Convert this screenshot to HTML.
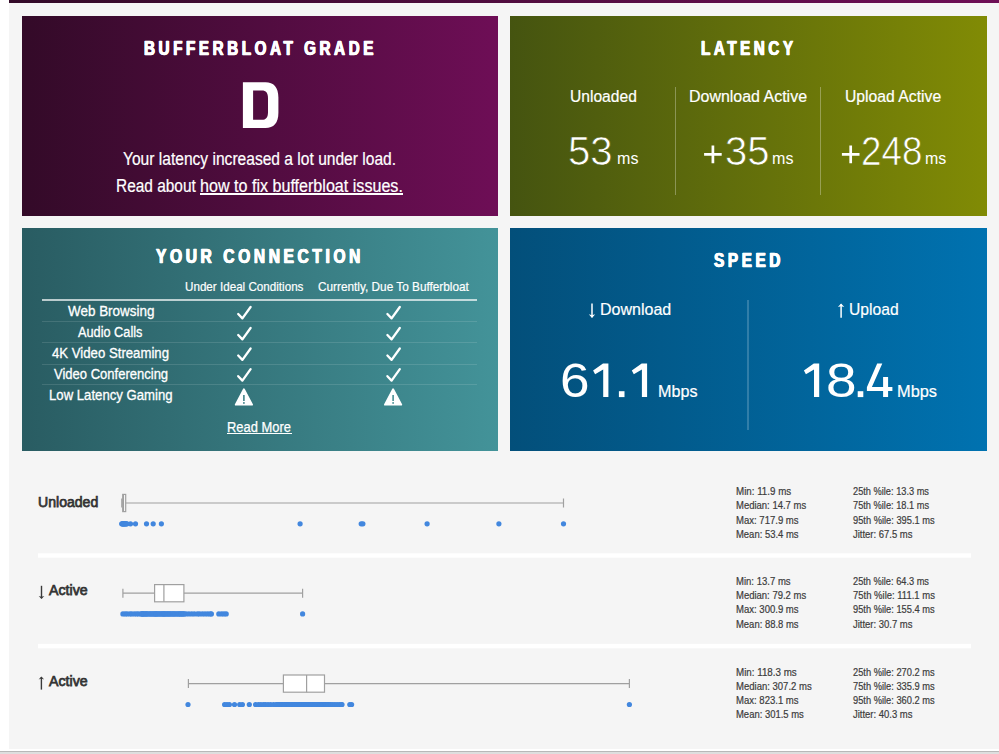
<!DOCTYPE html>
<html lang="en"><head><meta charset="utf-8"><title>Bufferbloat Test Results</title>
<style>
html,body{margin:0;padding:0;}
body{width:999px;height:754px;position:relative;overflow:hidden;background:#fff;font-family:"Liberation Sans",sans-serif;}
#bg{position:absolute;left:9px;top:0;width:990px;height:749px;background:#f5f5f5;}
#topbar{position:absolute;left:9px;top:0;width:990px;height:3px;background:linear-gradient(to right,#330a28,#6e0e56);}
#botbar{position:absolute;left:0;top:751px;width:999px;height:3px;background:#dedede;border-top:1px solid #b8b8b8;box-sizing:border-box;}
.panel{position:absolute;}
#p-grade{left:22px;top:16px;width:476px;height:199.5px;background:linear-gradient(to right,#330a28,#6e0e56);}
#p-lat{left:510px;top:16px;width:477px;height:199.5px;background:linear-gradient(to right,#455410,#818b05);}
#p-con{left:22px;top:228px;width:476px;height:223px;background:linear-gradient(to right,#295c62,#439399);}
#p-spd{left:510px;top:228px;width:477px;height:223px;background:linear-gradient(to right,#034f7a,#0072b0);}
.t{position:absolute;white-space:pre;line-height:1;transform-origin:0 0;margin:0;padding:0;}
.vsep{position:absolute;width:1px;background:rgba(255,255,255,0.38);}
.hl{position:absolute;height:1px;}
.ul{position:absolute;background:#fff;}
.wsep{position:absolute;left:38px;width:933px;height:4px;background:#fff;}
svg{position:absolute;left:0;top:0;overflow:visible;}
</style></head><body>
<div id="bg"></div><div id="topbar"></div>
<div class="panel" id="p-grade"></div><div class="panel" id="p-lat"></div>
<div class="panel" id="p-con"></div><div class="panel" id="p-spd"></div>

<div class="vsep" style="left:675px;top:87.4px;height:107.4px;background:rgba(255,255,255,0.30)"></div>
<div class="vsep" style="left:820px;top:87.4px;height:107.4px;background:rgba(255,255,255,0.30)"></div>
<div class="vsep" style="left:747px;top:299.5px;width:2px;height:130.4px;background:rgba(255,255,255,0.19)"></div>
<div class="hl" style="left:42px;top:299px;width:435px;height:2px;background:rgba(255,255,255,0.68)"></div>
<div class="hl" style="left:42px;top:321px;width:435px;background:rgba(255,255,255,0.12)"></div>
<div class="hl" style="left:42px;top:342px;width:435px;background:rgba(255,255,255,0.12)"></div>
<div class="hl" style="left:42px;top:364px;width:435px;background:rgba(255,255,255,0.12)"></div>
<div class="hl" style="left:42px;top:384px;width:435px;background:rgba(255,255,255,0.12)"></div>
<span class="t" style="left:143.84px;top:38.05px;font-size:20.29px;font-weight:700;color:#fff;transform:scaleX(0.7529);letter-spacing:4.7px;-webkit-text-stroke:0.4px #fff;text-shadow:0.6px 0 0 #fff,-0.6px 0 0 #fff;">BUFFERBLOAT GRADE</span>
<span class="t" style="left:123.0px;top:150.86px;font-size:17.68px;font-weight:400;color:#fff;transform:scaleX(0.8815);-webkit-text-stroke:0.2px #fff;">Your latency increased a lot under load.</span>
<span class="t" style="left:116.06px;top:177.76px;font-size:17.68px;font-weight:400;color:#fff;transform:scaleX(0.8736);-webkit-text-stroke:0.2px #fff;">Read about</span>
<span class="t" style="left:200.14px;top:177.76px;font-size:17.68px;font-weight:400;color:#fff;transform:scaleX(0.9111);-webkit-text-stroke:0.2px #fff;">how to fix bufferbloat issues.</span>
<div class="ul" style="left:199.9px;top:193.0px;width:203.1px;height:1.5px"></div>
<span class="t" style="left:701.14px;top:38.05px;font-size:20.29px;font-weight:700;color:#fff;transform:scaleX(0.7519);letter-spacing:4.7px;-webkit-text-stroke:0.4px #fff;text-shadow:0.6px 0 0 #fff,-0.6px 0 0 #fff;">LATENCY</span>
<span class="t" style="left:570.02px;top:88.05px;font-size:17.1px;font-weight:400;color:#fff;transform:scaleX(0.9132);-webkit-text-stroke:0.2px #fff;">Unloaded</span>
<span class="t" style="left:689.0px;top:88.05px;font-size:17.1px;font-weight:400;color:#fff;transform:scaleX(0.9339);-webkit-text-stroke:0.2px #fff;">Download Active</span>
<span class="t" style="left:845.02px;top:88.05px;font-size:17.1px;font-weight:400;color:#fff;transform:scaleX(0.9201);-webkit-text-stroke:0.2px #fff;">Upload Active</span>
<span class="t" style="left:568.04px;top:130.92px;font-size:40.57px;font-weight:400;color:#fff;transform:scaleX(0.988);-webkit-text-stroke:0.7px #4f5d0e;">53</span>
<span class="t" style="left:616.83px;top:150.87px;font-size:16.6px;font-weight:400;color:#fff;transform:scaleX(0.9679);">ms</span>
<span class="t" style="left:724.92px;top:130.92px;font-size:40.57px;font-weight:400;color:#fff;transform:scaleX(0.9874);-webkit-text-stroke:0.7px #616e0b;">35</span>
<span class="t" style="left:772.03px;top:150.87px;font-size:16.6px;font-weight:400;color:#fff;transform:scaleX(0.9679);">ms</span>
<span class="t" style="left:861.06px;top:130.92px;font-size:40.57px;font-weight:400;color:#fff;transform:scaleX(0.9067);-webkit-text-stroke:0.7px #747f07;">248</span>
<span class="t" style="left:925.04px;top:150.87px;font-size:16.6px;font-weight:400;color:#fff;transform:scaleX(0.962);">ms</span>
<span class="t" style="left:156.0px;top:245.94px;font-size:20.43px;font-weight:700;color:#fff;transform:scaleX(0.7632);letter-spacing:4.7px;-webkit-text-stroke:0.4px #fff;text-shadow:0.6px 0 0 #fff,-0.6px 0 0 #fff;">YOUR CONNECTION</span>
<span class="t" style="left:184.94px;top:279.98px;font-size:13.04px;font-weight:400;color:#fff;transform:scaleX(0.8934);-webkit-text-stroke:0.2px #fff;">Under Ideal Conditions</span>
<span class="t" style="left:317.74px;top:279.98px;font-size:13.04px;font-weight:400;color:#fff;transform:scaleX(0.9057);-webkit-text-stroke:0.2px #fff;">Currently, Due To Bufferbloat</span>
<span class="t" style="left:67.88px;top:304.07px;font-size:14.35px;font-weight:400;color:#fff;transform:scaleX(0.9373);-webkit-text-stroke:0.3px #fff;">Web Browsing</span>
<span class="t" style="left:78.08px;top:325.07px;font-size:14.35px;font-weight:400;color:#fff;transform:scaleX(0.8878);-webkit-text-stroke:0.3px #fff;">Audio Calls</span>
<span class="t" style="left:52.08px;top:346.07px;font-size:14.35px;font-weight:400;color:#fff;transform:scaleX(0.919);-webkit-text-stroke:0.3px #fff;">4K Video Streaming</span>
<span class="t" style="left:53.96px;top:367.07px;font-size:14.35px;font-weight:400;color:#fff;transform:scaleX(0.9076);-webkit-text-stroke:0.3px #fff;">Video Conferencing</span>
<span class="t" style="left:49.06px;top:388.07px;font-size:14.35px;font-weight:400;color:#fff;transform:scaleX(0.9174);-webkit-text-stroke:0.3px #fff;">Low Latency Gaming</span>
<span class="t" style="left:227.06px;top:420.07px;font-size:14.35px;font-weight:400;color:#fff;transform:scaleX(0.9007);-webkit-text-stroke:0.25px #fff;">Read More</span>
<div class="ul" style="left:227.3px;top:433.3px;width:64.5px;height:1.0px"></div>
<span class="t" style="left:714.0px;top:250.05px;font-size:20.29px;font-weight:700;color:#fff;transform:scaleX(0.7588);letter-spacing:4.7px;-webkit-text-stroke:0.4px #fff;text-shadow:0.6px 0 0 #fff,-0.6px 0 0 #fff;">SPEED</span>
<span class="t" style="left:599.8px;top:300.91px;font-size:17.39px;font-weight:400;color:#fff;transform:scaleX(0.9216);-webkit-text-stroke:0.2px #fff;">Download</span>
<span class="t" style="left:849.12px;top:300.91px;font-size:17.39px;font-weight:400;color:#fff;transform:scaleX(0.9007);-webkit-text-stroke:0.2px #fff;">Upload</span>
<span class="t" style="left:560.02px;top:355.95px;font-size:48.7px;font-weight:400;color:#fff;transform:scaleX(1.0908);">6</span>
<span class="t" style="left:658.3px;top:383.06px;font-size:16.38px;font-weight:400;color:#fff;transform:scaleX(0.9869);-webkit-text-stroke:0.2px #fff;">Mbps</span>
<span class="t" style="left:826.01px;top:355.95px;font-size:48.7px;font-weight:400;color:#fff;transform:scaleX(1.1286);">8</span>
<span class="t" style="left:897.09px;top:383.06px;font-size:16.38px;font-weight:400;color:#fff;transform:scaleX(1.0011);-webkit-text-stroke:0.2px #fff;">Mbps</span>
<span class="t" style="left:38.06px;top:494.07px;font-size:15.07px;font-weight:400;color:#333;transform:scaleX(0.9347);-webkit-text-stroke:0.75px #333;">Unloaded</span>
<span class="t" style="left:49.12px;top:581.97px;font-size:15.07px;font-weight:400;color:#333;transform:scaleX(0.9417);-webkit-text-stroke:0.75px #333;">Active</span>
<span class="t" style="left:49.12px;top:673.07px;font-size:15.07px;font-weight:400;color:#333;transform:scaleX(0.9409);-webkit-text-stroke:0.75px #333;">Active</span>
<span class="t" style="left:736.06px;top:486.9px;font-size:10.29px;font-weight:400;color:#3c3c3c;transform:scaleX(0.9498);-webkit-text-stroke:0.2px #3c3c3c;">Min: 11.9 ms</span>
<span class="t" style="left:736.08px;top:501.05px;font-size:10.29px;font-weight:400;color:#3c3c3c;transform:scaleX(0.9226);-webkit-text-stroke:0.2px #3c3c3c;">Median: 14.7 ms</span>
<span class="t" style="left:736.08px;top:515.8px;font-size:10.29px;font-weight:400;color:#3c3c3c;transform:scaleX(0.9284);-webkit-text-stroke:0.2px #3c3c3c;">Max: 717.9 ms</span>
<span class="t" style="left:736.08px;top:529.85px;font-size:10.29px;font-weight:400;color:#3c3c3c;transform:scaleX(0.9189);-webkit-text-stroke:0.2px #3c3c3c;">Mean: 53.4 ms</span>
<span class="t" style="left:853.08px;top:486.9px;font-size:10.29px;font-weight:400;color:#3c3c3c;transform:scaleX(0.8984);-webkit-text-stroke:0.2px #3c3c3c;">25th %ile: 13.3 ms</span>
<span class="t" style="left:853.08px;top:501.05px;font-size:10.29px;font-weight:400;color:#3c3c3c;transform:scaleX(0.8996);-webkit-text-stroke:0.2px #3c3c3c;">75th %ile: 18.1 ms</span>
<span class="t" style="left:853.04px;top:515.8px;font-size:10.29px;font-weight:400;color:#3c3c3c;transform:scaleX(0.9038);-webkit-text-stroke:0.2px #3c3c3c;">95th %ile: 395.1 ms</span>
<span class="t" style="left:852.82px;top:529.85px;font-size:10.29px;font-weight:400;color:#3c3c3c;transform:scaleX(0.9207);-webkit-text-stroke:0.2px #3c3c3c;">Jitter: 67.5 ms</span>
<span class="t" style="left:736.08px;top:577.0px;font-size:10.29px;font-weight:400;color:#3c3c3c;transform:scaleX(0.928);-webkit-text-stroke:0.2px #3c3c3c;">Min: 13.7 ms</span>
<span class="t" style="left:736.08px;top:590.95px;font-size:10.29px;font-weight:400;color:#3c3c3c;transform:scaleX(0.9226);-webkit-text-stroke:0.2px #3c3c3c;">Median: 79.2 ms</span>
<span class="t" style="left:736.08px;top:604.9px;font-size:10.29px;font-weight:400;color:#3c3c3c;transform:scaleX(0.9284);-webkit-text-stroke:0.2px #3c3c3c;">Max: 300.9 ms</span>
<span class="t" style="left:736.08px;top:619.85px;font-size:10.29px;font-weight:400;color:#3c3c3c;transform:scaleX(0.9189);-webkit-text-stroke:0.2px #3c3c3c;">Mean: 88.8 ms</span>
<span class="t" style="left:853.08px;top:577.0px;font-size:10.29px;font-weight:400;color:#3c3c3c;transform:scaleX(0.8984);-webkit-text-stroke:0.2px #3c3c3c;">25th %ile: 64.3 ms</span>
<span class="t" style="left:853.06px;top:590.95px;font-size:10.29px;font-weight:400;color:#3c3c3c;transform:scaleX(0.9226);-webkit-text-stroke:0.2px #3c3c3c;">75th %ile: 111.1 ms</span>
<span class="t" style="left:853.04px;top:604.9px;font-size:10.29px;font-weight:400;color:#3c3c3c;transform:scaleX(0.9038);-webkit-text-stroke:0.2px #3c3c3c;">95th %ile: 155.4 ms</span>
<span class="t" style="left:852.82px;top:619.85px;font-size:10.29px;font-weight:400;color:#3c3c3c;transform:scaleX(0.9207);-webkit-text-stroke:0.2px #3c3c3c;">Jitter: 30.7 ms</span>
<span class="t" style="left:736.06px;top:667.9px;font-size:10.29px;font-weight:400;color:#3c3c3c;transform:scaleX(0.9513);-webkit-text-stroke:0.2px #3c3c3c;">Min: 118.3 ms</span>
<span class="t" style="left:736.08px;top:681.95px;font-size:10.29px;font-weight:400;color:#3c3c3c;transform:scaleX(0.9262);-webkit-text-stroke:0.2px #3c3c3c;">Median: 307.2 ms</span>
<span class="t" style="left:736.08px;top:695.9px;font-size:10.29px;font-weight:400;color:#3c3c3c;transform:scaleX(0.9284);-webkit-text-stroke:0.2px #3c3c3c;">Max: 823.1 ms</span>
<span class="t" style="left:736.08px;top:710.05px;font-size:10.29px;font-weight:400;color:#3c3c3c;transform:scaleX(0.9194);-webkit-text-stroke:0.2px #3c3c3c;">Mean: 301.5 ms</span>
<span class="t" style="left:853.08px;top:667.9px;font-size:10.29px;font-weight:400;color:#3c3c3c;transform:scaleX(0.9036);-webkit-text-stroke:0.2px #3c3c3c;">25th %ile: 270.2 ms</span>
<span class="t" style="left:853.08px;top:681.95px;font-size:10.29px;font-weight:400;color:#3c3c3c;transform:scaleX(0.9046);-webkit-text-stroke:0.2px #3c3c3c;">75th %ile: 335.9 ms</span>
<span class="t" style="left:853.04px;top:695.9px;font-size:10.29px;font-weight:400;color:#3c3c3c;transform:scaleX(0.9038);-webkit-text-stroke:0.2px #3c3c3c;">95th %ile: 360.2 ms</span>
<span class="t" style="left:852.82px;top:710.05px;font-size:10.29px;font-weight:400;color:#3c3c3c;transform:scaleX(0.9207);-webkit-text-stroke:0.2px #3c3c3c;">Jitter: 40.3 ms</span>
<svg width="999" height="754" viewBox="0 0 999 754">
<path d="M238.2 314.0 L242.4 318.4 L250.6 307.0" fill="none" stroke="#fff" stroke-width="2.3" stroke-linecap="round" stroke-linejoin="round"/>
<path d="M387.4 314.0 L391.6 318.4 L399.8 307.0" fill="none" stroke="#fff" stroke-width="2.3" stroke-linecap="round" stroke-linejoin="round"/>
<path d="M238.2 335.0 L242.4 339.4 L250.6 328.0" fill="none" stroke="#fff" stroke-width="2.3" stroke-linecap="round" stroke-linejoin="round"/>
<path d="M387.4 335.0 L391.6 339.4 L399.8 328.0" fill="none" stroke="#fff" stroke-width="2.3" stroke-linecap="round" stroke-linejoin="round"/>
<path d="M238.2 355.5 L242.4 359.9 L250.6 348.5" fill="none" stroke="#fff" stroke-width="2.3" stroke-linecap="round" stroke-linejoin="round"/>
<path d="M387.4 355.5 L391.6 359.9 L399.8 348.5" fill="none" stroke="#fff" stroke-width="2.3" stroke-linecap="round" stroke-linejoin="round"/>
<path d="M238.2 376.2 L242.4 380.6 L250.6 369.2" fill="none" stroke="#fff" stroke-width="2.3" stroke-linecap="round" stroke-linejoin="round"/>
<path d="M387.4 376.2 L391.6 380.6 L399.8 369.2" fill="none" stroke="#fff" stroke-width="2.3" stroke-linecap="round" stroke-linejoin="round"/>
<path d="M243.9 389.2 L252.1 404.7 L235.7 404.7 Z" fill="#fff" stroke="#fff" stroke-width="1.8" stroke-linejoin="round"/><rect x="243.15" y="395.0" width="1.5" height="6.0" fill="#337a80"/><rect x="243.15" y="402.1" width="1.5" height="1.7" fill="#337a80"/>
<path d="M393.1 389.2 L401.3 404.7 L384.9 404.7 Z" fill="#fff" stroke="#fff" stroke-width="1.8" stroke-linejoin="round"/><rect x="392.35" y="395.0" width="1.5" height="6.0" fill="#3b878d"/><rect x="392.35" y="402.1" width="1.5" height="1.7" fill="#3b878d"/>
<rect x="38" y="553.3" width="933" height="4.4" fill="#fff"/><rect x="38" y="643.9" width="933" height="4.4" fill="#fff"/>
<path fill="#fff" fill-rule="evenodd" d="M242.9 82.3 H265.5 C273.6 82.3 278.4 87.2 278.4 97.6 V112.8 C278.4 123.2 273.6 128 265.5 128 H242.9 Z M253.1 90.6 V119.8 H261.9 C266 119.8 268 117.4 268 112.2 V98.2 C268 93 266 90.6 261.9 90.6 Z"/>
<path fill="#fff" d="M608.4 363.6 L608.4 397.1 L603.1999999999999 397.1 L603.1999999999999 369.6 L595.1 374.3 L593.1 370.5 L603.0 363.6 Z"/>
<path fill="#fff" d="M647.1 363.6 L647.1 397.1 L641.9 397.1 L641.9 369.6 L633.8 374.3 L631.8 370.5 L641.7 363.6 Z"/>
<path fill="#fff" d="M819.2 363.6 L819.2 397.1 L814.0 397.1 L814.0 369.6 L805.9 374.3 L803.9 370.5 L813.8 363.6 Z"/>
<rect x="618.9" y="391.2" width="5.6" height="5.9" fill="#fff"/><rect x="857.7" y="391.2" width="5.6" height="5.9" fill="#fff"/>
<path fill="#fff" d="M877.2 363.6 L882.3 363.6 L871.9 386.9 L883.1 386.9 L883.1 376.9 L888.1 376.9 L888.1 386.9 L892.4 386.9 L892.4 391.1 L888.1 391.1 L888.1 397.1 L883.1 397.1 L883.1 391.1 L866.9 391.1 L866.9 387.3 Z"/>
<path d="M704.1 154.4 H721.6999999999999 M712.9 145.6 V163.20000000000002" stroke="#fff" stroke-width="2.7" fill="none"/>
<path d="M841.9000000000001 154.4 H859.5 M850.7 145.6 V163.20000000000002" stroke="#fff" stroke-width="2.7" fill="none"/>
<path d="M592 303.6 L592 317.2" stroke="#fff" stroke-width="1.5" fill="none"/><path d="M588.8 314.3 L592 318.0 L595.2 314.3 L592 315.2 Z" fill="#fff"/>
<path d="M841.1 317.8 L841.1 304.2" stroke="#fff" stroke-width="1.5" fill="none"/><path d="M837.9 307.09999999999997 L841.1 303.4 L844.3000000000001 307.09999999999997 L841.1 306.2 Z" fill="#fff"/>
<path d="M41.5 585.8 L41.5 598.2" stroke="#3a3a3a" stroke-width="1.4" fill="none"/><path d="M38.7 595.9 L41.5 599.0 L44.3 595.9 L41.5 596.8 Z" fill="#3a3a3a"/>
<path d="M41.4 689.6 L41.4 677.1999999999999" stroke="#3a3a3a" stroke-width="1.4" fill="none"/><path d="M38.6 679.5 L41.4 676.4 L44.199999999999996 679.5 L41.4 678.6 Z" fill="#3a3a3a"/>
<path d="M121.8 503 L563.5 503 M121.8 498.5 L121.8 507.5 M563.5 498.5 L563.5 507.5" stroke="#a0a0a0" stroke-width="1.2" fill="none"/><rect x="122.7" y="494.4" width="3.0" height="17.2" fill="#fff" stroke="#a0a0a0" stroke-width="1.2"/><path d="M123.5 494.4 L123.5 511.6" stroke="#a0a0a0" stroke-width="1.2"/>
<path d="M122.9 593.2 L302.6 593.2 M122.9 588.7 L122.9 597.7 M302.6 588.7 L302.6 597.7" stroke="#a0a0a0" stroke-width="1.2" fill="none"/><rect x="154.6" y="584.6" width="29.3" height="17.2" fill="#fff" stroke="#a0a0a0" stroke-width="1.2"/><path d="M163.9 584.6 L163.9 601.8000000000001" stroke="#a0a0a0" stroke-width="1.2"/>
<path d="M188.4 683.6 L629.4 683.6 M188.4 679.1 L188.4 688.1 M629.4 679.1 L629.4 688.1" stroke="#a0a0a0" stroke-width="1.2" fill="none"/><rect x="283.4" y="675.0" width="41.1" height="17.2" fill="#fff" stroke="#a0a0a0" stroke-width="1.2"/><path d="M306.6 675.0 L306.6 692.2" stroke="#a0a0a0" stroke-width="1.2"/>
<circle cx="121.7" cy="523.8" r="2.6" fill="#4287de"/><circle cx="122.3" cy="523.8" r="2.6" fill="#4287de"/><circle cx="122.8" cy="523.8" r="2.6" fill="#4287de"/><circle cx="123.2" cy="523.8" r="2.6" fill="#4287de"/><circle cx="123.6" cy="523.8" r="2.6" fill="#4287de"/><circle cx="124.0" cy="523.8" r="2.6" fill="#4287de"/><circle cx="124.5" cy="523.8" r="2.6" fill="#4287de"/><circle cx="125.0" cy="523.8" r="2.6" fill="#4287de"/><circle cx="125.6" cy="523.8" r="2.6" fill="#4287de"/><circle cx="126.3" cy="523.8" r="2.6" fill="#4287de"/><circle cx="127.0" cy="523.8" r="2.6" fill="#4287de"/><circle cx="130.5" cy="523.8" r="2.6" fill="#4287de"/><circle cx="135.5" cy="523.8" r="2.6" fill="#4287de"/><circle cx="146.5" cy="523.8" r="2.6" fill="#4287de"/><circle cx="153.2" cy="523.8" r="2.6" fill="#4287de"/><circle cx="161.4" cy="523.8" r="2.6" fill="#4287de"/><circle cx="300.1" cy="523.8" r="2.6" fill="#4287de"/><circle cx="361.2" cy="523.8" r="2.6" fill="#4287de"/><circle cx="362.9" cy="523.8" r="2.6" fill="#4287de"/><circle cx="427.1" cy="523.8" r="2.6" fill="#4287de"/><circle cx="498.9" cy="523.8" r="2.6" fill="#4287de"/><circle cx="563.5" cy="523.8" r="2.6" fill="#4287de"/>
<circle cx="122.9" cy="613.9" r="2.6" fill="#4287de"/><circle cx="125.2" cy="613.9" r="2.6" fill="#4287de"/><circle cx="127.2" cy="613.9" r="2.6" fill="#4287de"/><circle cx="129.9" cy="613.9" r="2.6" fill="#4287de"/><circle cx="131.8" cy="613.9" r="2.6" fill="#4287de"/><circle cx="134.3" cy="613.9" r="2.6" fill="#4287de"/><circle cx="136.6" cy="613.9" r="2.6" fill="#4287de"/><circle cx="138.5" cy="613.9" r="2.6" fill="#4287de"/><circle cx="141.0" cy="613.9" r="2.6" fill="#4287de"/><circle cx="141.6" cy="613.9" r="2.6" fill="#4287de"/><circle cx="142.5" cy="613.9" r="2.6" fill="#4287de"/><circle cx="143.0" cy="613.9" r="2.6" fill="#4287de"/><circle cx="143.6" cy="613.9" r="2.6" fill="#4287de"/><circle cx="144.5" cy="613.9" r="2.6" fill="#4287de"/><circle cx="145.7" cy="613.9" r="2.6" fill="#4287de"/><circle cx="146.3" cy="613.9" r="2.6" fill="#4287de"/><circle cx="147.0" cy="613.9" r="2.6" fill="#4287de"/><circle cx="148.1" cy="613.9" r="2.6" fill="#4287de"/><circle cx="149.5" cy="613.9" r="2.6" fill="#4287de"/><circle cx="150.5" cy="613.9" r="2.6" fill="#4287de"/><circle cx="151.3" cy="613.9" r="2.6" fill="#4287de"/><circle cx="152.7" cy="613.9" r="2.6" fill="#4287de"/><circle cx="153.3" cy="613.9" r="2.6" fill="#4287de"/><circle cx="154.5" cy="613.9" r="2.6" fill="#4287de"/><circle cx="155.3" cy="613.9" r="2.6" fill="#4287de"/><circle cx="155.9" cy="613.9" r="2.6" fill="#4287de"/><circle cx="156.5" cy="613.9" r="2.6" fill="#4287de"/><circle cx="157.3" cy="613.9" r="2.6" fill="#4287de"/><circle cx="158.5" cy="613.9" r="2.6" fill="#4287de"/><circle cx="159.2" cy="613.9" r="2.6" fill="#4287de"/><circle cx="160.2" cy="613.9" r="2.6" fill="#4287de"/><circle cx="161.3" cy="613.9" r="2.6" fill="#4287de"/><circle cx="162.1" cy="613.9" r="2.6" fill="#4287de"/><circle cx="163.1" cy="613.9" r="2.6" fill="#4287de"/><circle cx="163.7" cy="613.9" r="2.6" fill="#4287de"/><circle cx="164.2" cy="613.9" r="2.6" fill="#4287de"/><circle cx="164.9" cy="613.9" r="2.6" fill="#4287de"/><circle cx="166.0" cy="613.9" r="2.6" fill="#4287de"/><circle cx="166.9" cy="613.9" r="2.6" fill="#4287de"/><circle cx="167.7" cy="613.9" r="2.6" fill="#4287de"/><circle cx="168.7" cy="613.9" r="2.6" fill="#4287de"/><circle cx="169.6" cy="613.9" r="2.6" fill="#4287de"/><circle cx="170.4" cy="613.9" r="2.6" fill="#4287de"/><circle cx="171.6" cy="613.9" r="2.6" fill="#4287de"/><circle cx="172.7" cy="613.9" r="2.6" fill="#4287de"/><circle cx="173.5" cy="613.9" r="2.6" fill="#4287de"/><circle cx="174.5" cy="613.9" r="2.6" fill="#4287de"/><circle cx="175.5" cy="613.9" r="2.6" fill="#4287de"/><circle cx="176.7" cy="613.9" r="2.6" fill="#4287de"/><circle cx="177.9" cy="613.9" r="2.6" fill="#4287de"/><circle cx="178.7" cy="613.9" r="2.6" fill="#4287de"/><circle cx="180.0" cy="613.9" r="2.6" fill="#4287de"/><circle cx="180.6" cy="613.9" r="2.6" fill="#4287de"/><circle cx="181.5" cy="613.9" r="2.6" fill="#4287de"/><circle cx="182.7" cy="613.9" r="2.6" fill="#4287de"/><circle cx="183.3" cy="613.9" r="2.6" fill="#4287de"/><circle cx="184.3" cy="613.9" r="2.6" fill="#4287de"/><circle cx="186.1" cy="613.9" r="2.6" fill="#4287de"/><circle cx="188.9" cy="613.9" r="2.6" fill="#4287de"/><circle cx="191.7" cy="613.9" r="2.6" fill="#4287de"/><circle cx="194.3" cy="613.9" r="2.6" fill="#4287de"/><circle cx="197.4" cy="613.9" r="2.6" fill="#4287de"/><circle cx="199.6" cy="613.9" r="2.6" fill="#4287de"/><circle cx="202.4" cy="613.9" r="2.6" fill="#4287de"/><circle cx="205.0" cy="613.9" r="2.6" fill="#4287de"/><circle cx="207.6" cy="613.9" r="2.6" fill="#4287de"/><circle cx="210.1" cy="613.9" r="2.6" fill="#4287de"/><circle cx="211.4" cy="613.9" r="2.6" fill="#4287de"/><circle cx="218.8" cy="613.9" r="2.6" fill="#4287de"/><circle cx="221.6" cy="613.9" r="2.6" fill="#4287de"/><circle cx="224.0" cy="613.9" r="2.6" fill="#4287de"/><circle cx="226.2" cy="613.9" r="2.6" fill="#4287de"/><circle cx="302.6" cy="613.9" r="2.6" fill="#4287de"/>
<circle cx="188.0" cy="704.5" r="2.6" fill="#4287de"/><circle cx="224.6" cy="704.5" r="2.6" fill="#4287de"/><circle cx="227.0" cy="704.5" r="2.6" fill="#4287de"/><circle cx="229.4" cy="704.5" r="2.6" fill="#4287de"/><circle cx="234.5" cy="704.5" r="2.6" fill="#4287de"/><circle cx="239.7" cy="704.5" r="2.6" fill="#4287de"/><circle cx="242.4" cy="704.5" r="2.6" fill="#4287de"/><circle cx="249.3" cy="704.5" r="2.6" fill="#4287de"/><circle cx="255.6" cy="704.5" r="2.6" fill="#4287de"/><circle cx="258.5" cy="704.5" r="2.6" fill="#4287de"/><circle cx="260.9" cy="704.5" r="2.6" fill="#4287de"/><circle cx="263.5" cy="704.5" r="2.6" fill="#4287de"/><circle cx="265.4" cy="704.5" r="2.6" fill="#4287de"/><circle cx="268.0" cy="704.5" r="2.6" fill="#4287de"/><circle cx="270.6" cy="704.5" r="2.6" fill="#4287de"/><circle cx="273.6" cy="704.5" r="2.6" fill="#4287de"/><circle cx="276.4" cy="704.5" r="2.6" fill="#4287de"/><circle cx="277.1" cy="704.5" r="2.6" fill="#4287de"/><circle cx="278.0" cy="704.5" r="2.6" fill="#4287de"/><circle cx="279.1" cy="704.5" r="2.6" fill="#4287de"/><circle cx="279.6" cy="704.5" r="2.6" fill="#4287de"/><circle cx="280.5" cy="704.5" r="2.6" fill="#4287de"/><circle cx="281.2" cy="704.5" r="2.6" fill="#4287de"/><circle cx="281.8" cy="704.5" r="2.6" fill="#4287de"/><circle cx="282.3" cy="704.5" r="2.6" fill="#4287de"/><circle cx="283.5" cy="704.5" r="2.6" fill="#4287de"/><circle cx="284.1" cy="704.5" r="2.6" fill="#4287de"/><circle cx="284.9" cy="704.5" r="2.6" fill="#4287de"/><circle cx="285.7" cy="704.5" r="2.6" fill="#4287de"/><circle cx="287.0" cy="704.5" r="2.6" fill="#4287de"/><circle cx="287.6" cy="704.5" r="2.6" fill="#4287de"/><circle cx="288.5" cy="704.5" r="2.6" fill="#4287de"/><circle cx="289.5" cy="704.5" r="2.6" fill="#4287de"/><circle cx="290.8" cy="704.5" r="2.6" fill="#4287de"/><circle cx="292.0" cy="704.5" r="2.6" fill="#4287de"/><circle cx="293.3" cy="704.5" r="2.6" fill="#4287de"/><circle cx="294.0" cy="704.5" r="2.6" fill="#4287de"/><circle cx="294.9" cy="704.5" r="2.6" fill="#4287de"/><circle cx="295.7" cy="704.5" r="2.6" fill="#4287de"/><circle cx="297.0" cy="704.5" r="2.6" fill="#4287de"/><circle cx="298.4" cy="704.5" r="2.6" fill="#4287de"/><circle cx="299.0" cy="704.5" r="2.6" fill="#4287de"/><circle cx="299.7" cy="704.5" r="2.6" fill="#4287de"/><circle cx="300.4" cy="704.5" r="2.6" fill="#4287de"/><circle cx="301.1" cy="704.5" r="2.6" fill="#4287de"/><circle cx="302.0" cy="704.5" r="2.6" fill="#4287de"/><circle cx="303.1" cy="704.5" r="2.6" fill="#4287de"/><circle cx="303.8" cy="704.5" r="2.6" fill="#4287de"/><circle cx="304.3" cy="704.5" r="2.6" fill="#4287de"/><circle cx="305.2" cy="704.5" r="2.6" fill="#4287de"/><circle cx="306.0" cy="704.5" r="2.6" fill="#4287de"/><circle cx="307.0" cy="704.5" r="2.6" fill="#4287de"/><circle cx="308.4" cy="704.5" r="2.6" fill="#4287de"/><circle cx="309.5" cy="704.5" r="2.6" fill="#4287de"/><circle cx="310.5" cy="704.5" r="2.6" fill="#4287de"/><circle cx="311.5" cy="704.5" r="2.6" fill="#4287de"/><circle cx="312.6" cy="704.5" r="2.6" fill="#4287de"/><circle cx="313.2" cy="704.5" r="2.6" fill="#4287de"/><circle cx="314.5" cy="704.5" r="2.6" fill="#4287de"/><circle cx="315.7" cy="704.5" r="2.6" fill="#4287de"/><circle cx="317.0" cy="704.5" r="2.6" fill="#4287de"/><circle cx="318.2" cy="704.5" r="2.6" fill="#4287de"/><circle cx="319.0" cy="704.5" r="2.6" fill="#4287de"/><circle cx="319.9" cy="704.5" r="2.6" fill="#4287de"/><circle cx="320.5" cy="704.5" r="2.6" fill="#4287de"/><circle cx="321.6" cy="704.5" r="2.6" fill="#4287de"/><circle cx="322.1" cy="704.5" r="2.6" fill="#4287de"/><circle cx="322.7" cy="704.5" r="2.6" fill="#4287de"/><circle cx="323.4" cy="704.5" r="2.6" fill="#4287de"/><circle cx="324.0" cy="704.5" r="2.6" fill="#4287de"/><circle cx="324.8" cy="704.5" r="2.6" fill="#4287de"/><circle cx="325.4" cy="704.5" r="2.6" fill="#4287de"/><circle cx="325.9" cy="704.5" r="2.6" fill="#4287de"/><circle cx="326.5" cy="704.5" r="2.6" fill="#4287de"/><circle cx="327.1" cy="704.5" r="2.6" fill="#4287de"/><circle cx="327.9" cy="704.5" r="2.6" fill="#4287de"/><circle cx="328.4" cy="704.5" r="2.6" fill="#4287de"/><circle cx="329.7" cy="704.5" r="2.6" fill="#4287de"/><circle cx="330.8" cy="704.5" r="2.6" fill="#4287de"/><circle cx="332.8" cy="704.5" r="2.6" fill="#4287de"/><circle cx="334.9" cy="704.5" r="2.6" fill="#4287de"/><circle cx="337.1" cy="704.5" r="2.6" fill="#4287de"/><circle cx="339.3" cy="704.5" r="2.6" fill="#4287de"/><circle cx="341.3" cy="704.5" r="2.6" fill="#4287de"/><circle cx="342.0" cy="704.5" r="2.6" fill="#4287de"/><circle cx="349.8" cy="704.5" r="2.6" fill="#4287de"/><circle cx="351.6" cy="704.5" r="2.6" fill="#4287de"/><circle cx="629.4" cy="704.5" r="2.6" fill="#4287de"/>
</svg>
<div id="botbar"></div>
</body></html>
